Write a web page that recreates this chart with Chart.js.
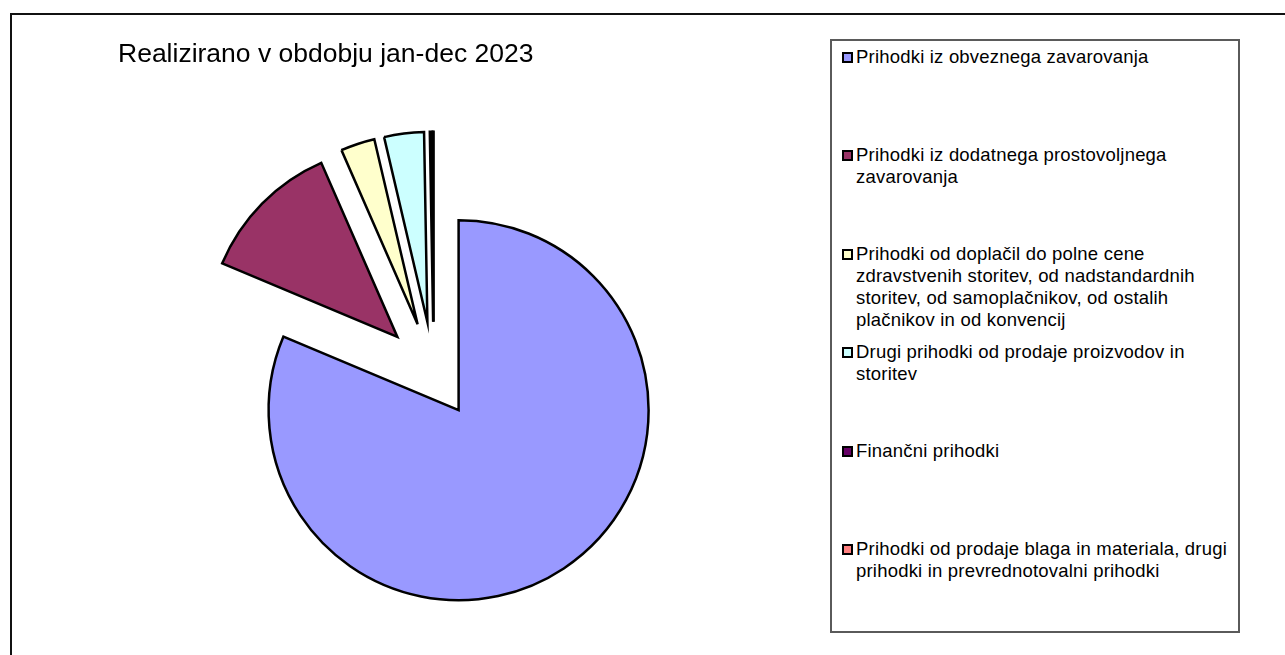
<!DOCTYPE html>
<html>
<head>
<meta charset="utf-8">
<script src="https://cdn.jsdelivr.net/npm/chart.js@4.4.1/dist/chart.umd.min.js"></script>
<style>
  html, body { margin: 0; padding: 0; background: #fff; overflow: hidden; }
  body { width: 1285px; height: 655px; position: relative; font-family: "Liberation Sans", Arial, sans-serif; }
  #frame { position: absolute; left: 10px; top: 13px; width: 1400px; height: 800px; border: 2px solid #111; box-sizing: border-box; }
  #wrap { position: absolute; left: 0; top: 0; width: 880px; height: 655px; }
  #legend { position: absolute; left: 830px; top: 39px; width: 410px; height: 594px; border: 2px solid #5a5a5a; box-sizing: border-box; background: #fff; z-index: 2; padding-top: 5px; }
  .item { position: relative; height: 98.4px; padding-left: 24px; padding-right: 6px; font-size: 18.5px; line-height: 22px; color: #000; letter-spacing: 0.2px; box-sizing: border-box; }
  .sw { position: absolute; left: 10px; top: 6px; width: 11px; height: 11px; border: 2px solid #000; box-sizing: border-box; }
</style>
</head>
<body>
<div id="frame"></div>
<div id="wrap"><canvas id="pieChart"></canvas></div>
<div id="legend"></div>
<script>
const labels = [
  "Prihodki iz obveznega zavarovanja",
  "Prihodki iz dodatnega prostovoljnega zavarovanja",
  "Prihodki od doplačil do polne cene zdravstvenih storitev, od nadstandardnih storitev, od samoplačnikov, od ostalih plačnikov in od konvencij",
  "Drugi prihodki od prodaje proizvodov in storitev",
  "Finančni prihodki",
  "Prihodki od prodaje blaga in materiala, drugi prihodki in prevrednotovalni prihodki"
];
// share of total, %
const shares = [81.33, 12.11, 2.9, 3.38, 0.21, 0.07];
const colors = ["#9999FF", "#993366", "#FFFFCC", "#CCFFFF", "#660066", "#FF8080"];

// Excel style explosion: every slice slides straight out along its middle.
// chart.js "offset" also stretches and narrows small arcs, so do the shift here instead.
const EXPLODE_FIRST = 45;
const EXPLODE_REST = 51;
const explodePlugin = {
  id: "explode",
  beforeDatasetDraw(chart, args) {
    const c = chart.ctx;
    args.meta.data.forEach(function (arc, i) {
      const d = i === 0 ? EXPLODE_FIRST : EXPLODE_REST;
      const mid = (arc.startAngle + arc.endAngle) / 2;
      c.save();
      c.translate(Math.cos(mid) * d, Math.sin(mid) * d);
      arc.draw(c);
      c.restore();
    });
    return false;
  },
};

const ctx = document.getElementById("pieChart").getContext("2d");

const chart = new Chart(ctx, {
  type: "pie",
  data: {
    labels: labels,
    datasets: [
      {
        data: shares,
        backgroundColor: colors,
        borderColor: "#000",
        borderWidth: 2.5,
        borderJoinStyle: "miter",
        hoverOffset: 0,
      },
    ],
  },
  options: {
    responsive: true,
    maintainAspectRatio: false,
    animation: false,
    radius: 190,
    layout: {
      padding: { left: 118, right: 130.6, top: 0, bottom: 0 },
    },
    plugins: {
      legend: { display: false },
      tooltip: { enabled: false },
      title: {
        display: true,
        text: "Realizirano v obdobju jan-dec 2023",
        align: "start",
        color: "#000",
        font: { family: "'Liberation Sans', Arial, sans-serif", size: 26.5, weight: "normal", lineHeight: 1.2 },
        padding: { top: 39, bottom: 19.6 },
      },
    },
  },
  plugins: [explodePlugin],
});

// legend as html so the long labels can wrap like the original
const legendEl = document.getElementById("legend");
labels.forEach(function (text, i) {
  const item = document.createElement("div");
  item.className = "item";
  const sw = document.createElement("span");
  sw.className = "sw";
  sw.style.background = colors[i];
  item.appendChild(sw);
  item.appendChild(document.createTextNode(text));
  legendEl.appendChild(item);
});
</script>
</body>
</html>
